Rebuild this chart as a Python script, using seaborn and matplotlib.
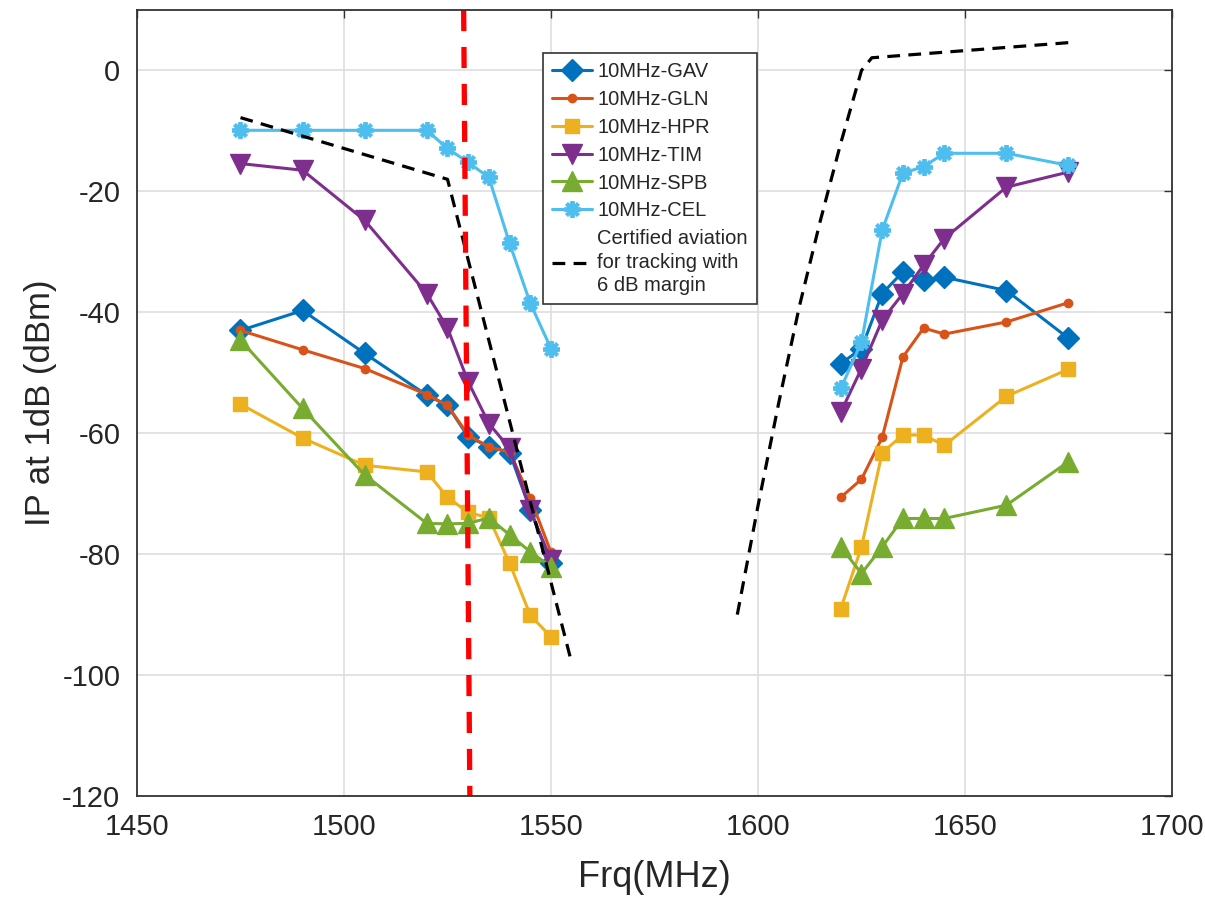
import matplotlib
matplotlib.use("Agg")
import matplotlib.pyplot as plt
import seaborn as sns
import numpy as np

# ---------------- data ----------------
freq_left = [1475, 1490, 1505, 1520, 1525, 1530, 1535, 1540, 1545, 1550]
freq_right = [1620, 1625, 1630, 1635, 1640, 1645, 1660, 1675]

gav_left = [-43.0, -39.7, -46.8, -53.7, -55.4, -60.6, -62.2, -63.2, -72.7, -81.4]
gav_right = [-48.5, -46.0, -36.9, -33.3, -34.7, -34.2, -36.4, -44.3]

gln_left = [-43.0, -46.2, -49.3, -53.6, -55.4, -60.3, -62.3, -63.1, -70.7, -79.7]
gln_right = [-70.6, -67.6, -60.7, -47.4, -42.6, -43.6, -41.6, -38.4]

hpr_left = [-55.2, -60.8, -65.3, -66.4, -70.6, -73.1, -74.0, -81.5, -90.1, -93.7]
hpr_right = [-89.0, -78.8, -63.2, -60.3, -60.3, -62.0, -53.9, -49.4]

tim_left = [-15.4, -16.5, -24.8, -36.9, -42.6, -51.5, -58.4, -62.5, -72.7, -81.0]
tim_right = [-56.5, -49.3, -41.3, -36.9, -32.2, -27.8, -19.3, -16.8]

spb_left = [-44.6, -55.9, -66.9, -74.9, -75.0, -74.9, -74.0, -76.8, -79.6, -82.1]
spb_right = [-78.8, -83.2, -78.8, -74.1, -74.1, -74.1, -71.9, -64.7]

cel_left = [-9.9, -9.9, -9.9, -9.9, -12.9, -15.2, -17.7, -28.6, -38.5, -46.0]
cel_right = [-52.6, -44.9, -26.4, -17.0, -15.9, -13.7, -13.7, -15.7]

limit_left_f = [1475, 1525, 1555]
limit_left_v = [-7.8, -18.0, -98.0]
limit_right_f = [1595, 1600, 1605, 1610, 1615, 1620, 1625, 1627.5, 1675]
limit_right_v = [-90.0, -72.0, -55.0, -39.0, -25.0, -12.0, 0.0, 2.1, 4.6]

red_f = [1528.9, 1530.4]
red_v = [10, -120]

series_names = ["10MHz-GAV", "10MHz-GLN", "10MHz-HPR", "10MHz-TIM", "10MHz-SPB", "10MHz-CEL"]
limit_label = "Certified aviation\nfor tracking with\n6 dB margin"

x_ticks = [1450, 1500, 1550, 1600, 1650, 1700]
y_ticks = [-120, -100, -80, -60, -40, -20, 0]

# ---------------- style ----------------
sns.set_style("white")
plt.rcParams["font.family"] = ["Liberation Sans", "DejaVu Sans"]
plt.rcParams["axes.unicode_minus"] = False

series = [
    (series_names[0], gav_left, gav_right, "#0072BD", "D", 11, 1.0),
    (series_names[1], gln_left, gln_right, "#D95319", "o", 6, 1.0),
    (series_names[2], hpr_left, hpr_right, "#EDB120", "s", 9.5, 1.0),
    (series_names[3], tim_left, tim_right, "#7E2F8E", "v", 14, 1.0),
    (series_names[4], spb_left, spb_right, "#77AC30", "^", 14, 1.0),
    (series_names[5], cel_left, cel_right, "#4DBEEE", (8, 2, 0), 12, 2.8),
]

fig = plt.figure(figsize=(12.05, 9), dpi=100)
ax = fig.add_axes([137 / 1205, 1 - 796 / 900, (1172 - 137) / 1205, (796 - 10) / 900])

handles = []
for name, vl, vr, col, mk, ms, mew in series:
    for i, (fx, vy) in enumerate([(freq_left, vl), (freq_right, vr)]):
        sns.lineplot(x=fx, y=vy, ax=ax, color=col, marker=mk, markersize=ms,
                     markeredgecolor=col, markerfacecolor=col, markeredgewidth=mew,
                     linewidth=2.2, sort=False, estimator=None,
                     label=name if i == 0 else None, legend=False)
    handles.append(ax.get_lines()[-2])

sns.lineplot(x=limit_left_f, y=limit_left_v, ax=ax, color="black", linewidth=2.3,
             sort=False, estimator=None, legend=False, dashes=False)
ax.get_lines()[-1].set_dashes((4.0, 2.6))
lim_handle = ax.get_lines()[-1]
sns.lineplot(x=limit_right_f, y=limit_right_v, ax=ax, color="black", linewidth=2.3,
             sort=False, estimator=None, legend=False, dashes=False)
ax.get_lines()[-1].set_dashes((4.0, 2.6))

sns.lineplot(x=red_f, y=red_v, ax=ax, color="#FF0000", linewidth=3.8,
             sort=False, estimator=None, legend=False, dashes=False)
ax.get_lines()[-1].set_dashes((4.0, 3.0))

ax.set_xlim(1450, 1700)
ax.set_ylim(-120, 10)
ax.set_xticks(x_ticks)
ax.set_yticks(y_ticks)
ax.grid(True, color="#dedede", linewidth=1.2)
ax.set_axisbelow(True)
for sp in ax.spines.values():
    sp.set_color("#333333")
    sp.set_linewidth(1.3)
ax.tick_params(direction="in", length=6, width=1.0, colors="#333333",
               labelsize=21, top=True, right=True, pad=12)
for lab in ax.get_xticklabels() + ax.get_yticklabels():
    lab.set_color("#262626")

ax.set_xlabel("Frq(MHz)", fontsize=26, color="#262626", labelpad=14)
ax.set_ylabel("IP at 1dB (dBm)", fontsize=25, color="#262626", labelpad=4)

leg = ax.legend(handles + [lim_handle], series_names + [limit_label],
                loc="upper left", bbox_to_anchor=(543 / 1205, 1 - 53 / 900),
                bbox_transform=fig.transFigure, borderaxespad=0, fontsize=14.5,
                frameon=True, fancybox=False, framealpha=1, edgecolor="#333333",
                borderpad=0.45, handlelength=2.0, handletextpad=0.25,
                labelspacing=0.44)
leg.get_frame().set_linewidth(1.2)
leg.get_texts()[-1].set_linespacing(1.3)

fig.savefig("out.png", dpi=100)
